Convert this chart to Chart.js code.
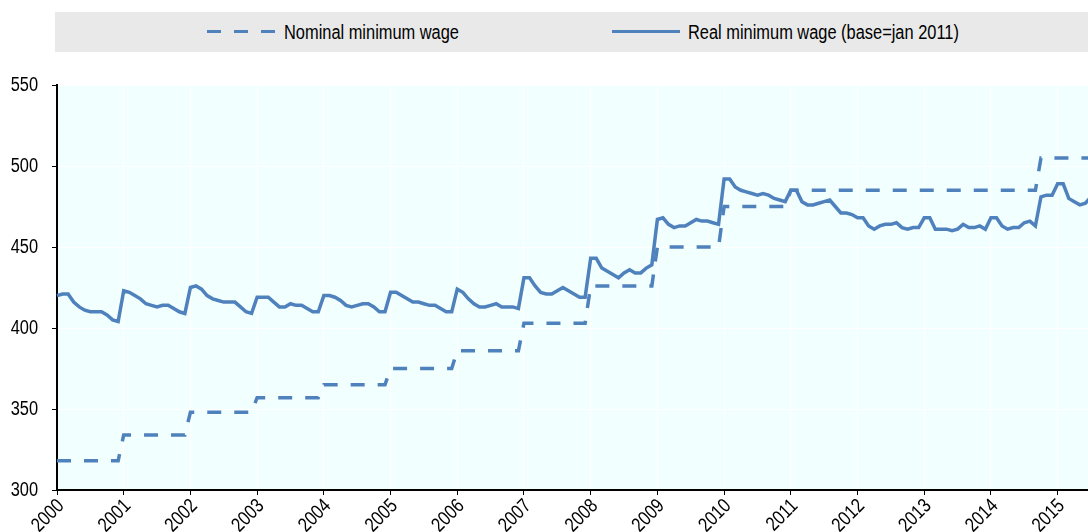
<!DOCTYPE html>
<html>
<head>
	<meta charset="utf-8">
	<script src="https://cdn.jsdelivr.net/npm/chart.js@4.4.1/dist/chart.umd.min.js"></script>
	<style type="text/css">
	html, body{
		margin: 0;
		padding: 0;
		overflow: hidden;
		background: #fff;
		font-family: "Liberation Sans", Arial, sans-serif;
	}
	#wrap{
		position: relative;
		width: 1088px;
		height: 532px;
		overflow: hidden;
	}
	#legend{
		position: absolute;
		left: 55px;
		top: 12px;
		width: 1033px;
		height: 40px;
		background: #e9e9e9;
	}
	.key{
		position: absolute;
		top: 18px;
		width: 68px;
		height: 3px;
	}
	.lbl{
		position: absolute;
		top: 8px;
		font-size: 20px;
		line-height: 24px;
		color: #000;
		white-space: nowrap;
		transform: scaleX(0.82);
		transform-origin: 0 50%;
	}
	canvas{
		position: absolute;
		left: 0;
		top: 0;
	}
	</style>
</head>
<body>
<div id="wrap">
	<canvas id="chart" width="1091" height="532"></canvas>
	<div id="legend">
		<span class="key" style="left:152px; background: repeating-linear-gradient(90deg, #4f81bd 0 14px, transparent 14px 27px);"></span>
		<span class="lbl" style="left:229px;">Nominal minimum wage</span>
		<span class="key" style="left:557px; background:#4f81bd;"></span>
		<span class="lbl" style="left:633px;">Real minimum wage (base=jan 2011)</span>
	</div>
</div>

<script>
var years = ['2000','2001','2002','2003','2004','2005','2006','2007','2008','2009','2010','2011','2012','2013','2014','2015'];
var months = ['Jan','Feb','Mar','Apr','May','Jun','Jul','Aug','Sep','Oct','Nov','Dec'];
var lastMonths2015 = 7;

// monthly nominal minimum wage
var nominal = [
	318,318,318,318,318,318,318,318,318,318,318,318,
	334,334,334,334,334,334,334,334,334,334,334,334,
	348,348,348,348,348,348,348,348,348,348,348,348,
	357,357,357,357,357,357,357,357,357,357,357,357,
	365,365,365,365,365,365,365,365,365,365,365,365,
	375,375,375,375,375,375,375,375,375,375,375,375,
	386,386,386,386,386,386,386,386,386,386,386,386,
	403,403,403,403,403,403,403,403,403,403,403,403,
	426,426,426,426,426,426,426,426,426,426,426,426,
	450,450,450,450,450,450,450,450,450,450,450,450,
	475,475,475,475,475,475,475,475,475,475,475,475,
	485,485,485,485,485,485,485,485,485,485,485,485,
	485,485,485,485,485,485,485,485,485,485,485,485,
	485,485,485,485,485,485,485,485,485,485,485,485,
	485,485,485,485,485,485,485,485,485,505,505,505,
	505,505,505,505,505,505,505
];

// monthly real minimum wage (base = jan 2011)
var real = [
	420,421,421,416,413,411,410,410,410,408,405,404,
	423,422,420,418,415,414,413,414,414,412,410,409,
	425,426,424,420,418,417,416,416,416,413,410,409,
	419,419,419,416,413,413,415,414,414,412,410,410,
	420,420,419,417,414,413,414,415,415,413,410,410,
	422,422,420,418,416,416,415,414,414,412,410,410,
	424,422,418,415,413,413,414,415,413,413,413,412,
	431,431,426,422,421,421,423,425,423,421,419,419,
	443,443,437,435,433,431,434,436,434,434,437,439,
	467,468,464,462,463,463,465,467,466,466,465,464,
	492,492,487,485,484,483,482,483,482,480,479,478,
	485,485,478,476,476,477,478,479,475,471,471,470,
	468,468,463,461,463,464,464,465,462,461,462,462,
	468,468,461,461,461,460,461,464,462,462,463,461,
	468,468,463,461,462,462,465,466,463,481,482,482,
	489,489,480,478,476,477,481
];

var yTicks = [300, 350, 400, 450, 500, 550];

var labels = [];
years.forEach(function(y, i){
	var n = (i == years.length - 1) ? lastMonths2015 : 12;
	for (var m = 0; m < n; m++) labels.push(months[m] + ' ' + y);
});

var blue = '#4f81bd';
var tickFont = '20px "Liberation Sans", Arial, sans-serif';
var squeeze = 0.82;   // narrow the glyphs, the original uses a condensed face

function isYearStart(i){ return labels[i] && labels[i].indexOf('Jan') === 0; }

var plotBg = {
	id: 'plotBg',
	beforeDraw: function(chart){
		var a = chart.chartArea, ctx = chart.ctx;
		ctx.save();
		ctx.fillStyle = '#f2ffff';
		ctx.fillRect(a.left, a.top, a.right - a.left, a.bottom - a.top);
		ctx.restore();
	}
};

// tick labels drawn by hand so they can be condensed
var narrowTicks = {
	id: 'narrowTicks',
	afterDraw: function(chart){
		var ctx = chart.ctx, sx = chart.scales.x, sy = chart.scales.y;
		ctx.save();
		ctx.font = tickFont;
		ctx.fillStyle = '#000';
		ctx.textBaseline = 'middle';
		ctx.textAlign = 'right';
		yTicks.forEach(function(v){
			ctx.save();
			ctx.translate(sy.right - 19, sy.getPixelForValue(v));
			ctx.scale(squeeze, 1);
			ctx.fillText(String(v), 0, 0);
			ctx.restore();
		});
		labels.forEach(function(l, i){
			if (!isYearStart(i)) return;
			ctx.save();
			ctx.translate(sx.getPixelForValue(i) + 4, sx.top + 13);
			ctx.rotate(-Math.PI / 4);
			ctx.scale(squeeze, 1);
			ctx.fillText(l.slice(4), 0, 0);
			ctx.restore();
		});
		ctx.restore();
	}
};

new Chart(document.getElementById('chart'), {
	type: 'line',
	data: {
		labels: labels,
		datasets: [{
			label: 'Nominal minimum wage',
			data: nominal,
			borderColor: blue,
			borderWidth: 3.5,
			borderDash: [14, 13],
			pointRadius: 0,
			tension: 0,
			fill: false
		}, {
			label: 'Real minimum wage (base=jan 2011)',
			data: real,
			borderColor: blue,
			borderWidth: 3.5,
			pointRadius: 0,
			tension: 0,
			fill: false
		}]
	},
	options: {
		responsive: false,
		animation: false,
		devicePixelRatio: 1,
		layout: { padding: { top: 85, left: 0, right: 0, bottom: 0 } },
		plugins: {
			legend: { display: false },
			tooltip: { enabled: false }
		},
		scales: {
			x: {
				offset: false,
				border: { color: '#000', width: 2 },
				grid: {
					lineWidth: 1,
					tickLength: 5,
					color: function(c){ return isYearStart(c.index) ? '#ffffff' : 'rgba(0,0,0,0)'; },
					tickColor: function(c){ return isYearStart(c.index) ? '#000' : 'rgba(0,0,0,0)'; }
				},
				ticks: {
					autoSkip: false,
					display: false
				},
				afterFit: function(s){ s.height = 42; }
			},
			y: {
				min: 300,
				max: 550,
				border: { color: '#000', width: 2 },
				grid: { color: '#ffffff', lineWidth: 1, tickLength: 5, tickColor: '#000' },
				afterBuildTicks: function(s){ s.ticks = yTicks.map(function(v){ return { value: v }; }); },
				ticks: { display: false },
				afterFit: function(s){ s.width = 57; }
			}
		}
	},
	plugins: [plotBg, narrowTicks]
});
</script>
</body>
</html>
